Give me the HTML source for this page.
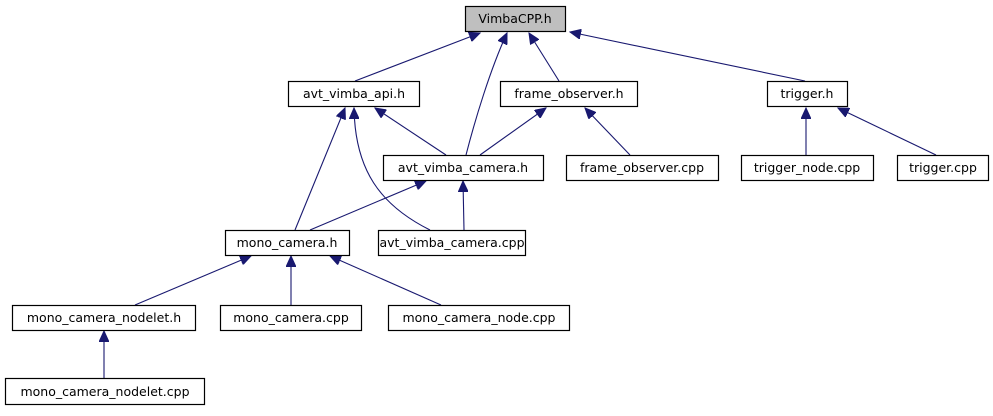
<!DOCTYPE html>
<html><head><style>
html,body{margin:0;padding:0;background:#fff;}
svg text{font-family:"DejaVu Sans","Liberation Sans",sans-serif;font-size:12.5px;text-anchor:middle;}
</style></head><body>
<svg width="993" height="411" xmlns="http://www.w3.org/2000/svg">
<defs>
<marker id="a" markerWidth="12" markerHeight="10" refX="11" refY="5" orient="auto" markerUnits="userSpaceOnUse">
<path d="M0,0 L11,5 L0,10 Z" fill="#191970" stroke="#191970"/>
</marker>
</defs>
<g fill="none" stroke="#191970" stroke-width="1.1" marker-end="url(#a)">
<path d="M355,81 L480,33"/>
<path d="M466,155 C475,120 490,70 507,33"/>
<path d="M559,81 L529,33"/>
<path d="M805,81 L570,32"/>
<path d="M446,155 L375,108"/>
<path d="M480,155 L546,108"/>
<path d="M630,155 L585,108"/>
<path d="M295,230 L345,108"/>
<path d="M430,230 C380,205 355,170 354,108"/>
<path d="M310,230 L426,181"/>
<path d="M464,230 L463,181"/>
<path d="M806,155 L806,108"/>
<path d="M936,155 L838,108"/>
<path d="M135,305 L251,256"/>
<path d="M291,305 L291,256"/>
<path d="M441,305 L330,256"/>
<path d="M104,378 L104,331"/>
</g>
<g stroke="#000" stroke-width="1.2" fill="#fff">
<rect x="465.5" y="6.5" width="100" height="25" fill="#bfbfbf"/>
<rect x="288.5" y="81.5" width="131" height="25"/>
<rect x="500.5" y="81.5" width="137" height="25"/>
<rect x="767.5" y="81.5" width="80" height="25"/>
<rect x="383.5" y="155.5" width="160" height="25"/>
<rect x="566.5" y="155.5" width="152" height="25"/>
<rect x="741.5" y="155.5" width="132" height="25"/>
<rect x="897.5" y="155.5" width="91" height="25"/>
<rect x="225.5" y="230.5" width="124" height="25"/>
<rect x="378.5" y="230.5" width="147" height="25"/>
<rect x="12.5" y="305.5" width="183" height="25"/>
<rect x="220.5" y="305.5" width="141" height="25"/>
<rect x="388.5" y="305.5" width="181" height="25"/>
<rect x="5.5" y="378.5" width="199" height="26"/>
</g>
<g fill="#000">
<text x="515" y="23">VimbaCPP.h</text>
<text x="354" y="98">avt_vimba_api.h</text>
<text x="569" y="98">frame_observer.h</text>
<text x="807" y="98">trigger.h</text>
<text x="463" y="172">avt_vimba_camera.h</text>
<text x="642" y="172">frame_observer.cpp</text>
<text x="807" y="172">trigger_node.cpp</text>
<text x="943" y="172">trigger.cpp</text>
<text x="287" y="247">mono_camera.h</text>
<text x="452" y="247">avt_vimba_camera.cpp</text>
<text x="104" y="322">mono_camera_nodelet.h</text>
<text x="291" y="322">mono_camera.cpp</text>
<text x="479" y="322">mono_camera_node.cpp</text>
<text x="105" y="396">mono_camera_nodelet.cpp</text>
</g>
</svg>
</body></html>
